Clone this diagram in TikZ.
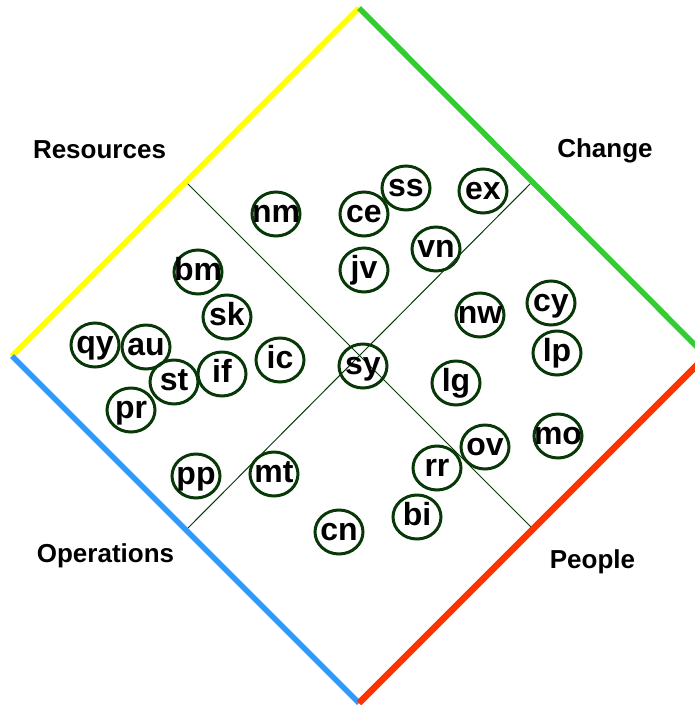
\documentclass[tikz,border=0pt]{standalone}
\usepackage{fontspec}
\setmainfont{Liberation Sans}
\usepackage{xcolor}
\usepackage{tikz}
\usetikzlibrary{shapes}
\definecolor{memgreen}{RGB}{8,56,8}
\definecolor{resyellow}{RGB}{255,255,0}
\definecolor{chgreen}{RGB}{51,204,51}
\definecolor{pplred}{RGB}{255,51,0}
\definecolor{opblue}{RGB}{51,153,255}
\tikzset{memb/.style={ellipse,draw=memgreen,line width=3pt,minimum width=48pt,minimum height=44pt,inner xsep=-8pt,inner ysep=0pt,text height=16.5pt,text depth=0pt,font=\fontsize{32}{32}\selectfont\bfseries}}
\tikzset{quad/.style={anchor=base,font=\fontsize{26}{26}\selectfont\bfseries}}

\begin{document}
\begin{tikzpicture}[x=1pt,y=-1pt]
    \useasboundingbox (0,0) rectangle (695,705);
    \clip (0,0) rectangle (695,705);
    \coordinate (top) at (359,8);
    \coordinate (left) at (12,356);
    \coordinate (bot) at (359,703);
    \coordinate (right) at (706,356);
    \coordinate (ry) at (186,182);
    \coordinate (ch) at (532,182);
    \coordinate (pe) at (533,529);
    \coordinate (op) at (186,530);

    \draw [memgreen,line width=1pt] (ry) -- (pe);
    \draw [memgreen,line width=1pt] (op) -- (ch);
    \draw [resyellow,line width=5.5pt] (left) -- (top);
    \draw [chgreen,line width=5.5pt] (top) -- (right);
    \draw [opblue,line width=5.5pt] (left) -- (bot);
    \draw [pplred,line width=6.5pt] (right) -- (bot);

    \node[quad] (res) at (99.5,158) {Resources};
    \node[quad] (chg) at (605,157) {Change};
    \node[quad] (ops) at (105.5,562) {Operations};
    \node[quad] (ppl) at (592.5,568) {People};

    \node[memb] (nm) at (276,214) {nm};
    \node[memb] (ce) at (364,214) {ce};
    \node[memb] (ss) at (406,188) {ss};
    \node[memb] (ex) at (483,191) {ex};
    \node[memb] (vn) at (436,249) {vn};
    \node[memb] (jv) at (364,270) {jv};
    \node[memb] (bm) at (198,272) {bm};
    \node[memb] (sk) at (227,317) {sk};
    \node[memb] (qy) at (95,345) {qy};
    \node[memb] (au) at (146,347) {au};
    \node[memb] (st) at (174,382) {st};
    \node[memb] (if) at (222,374) {if};
    \node[memb] (ic) at (280,360) {ic};
    \node[memb] (pr) at (131,410) {pr};
    \node[memb] (pp) at (196,476) {pp};
    \node[memb] (mt) at (274,474) {mt};
    \node[memb] (cn) at (339,532) {cn};
    \node[memb] (sy) at (363,366) {sy};
    \node[memb] (nw) at (480,315) {nw};
    \node[memb] (cy) at (551,303) {cy};
    \node[memb] (lp) at (557,353) {lp};
    \node[memb] (lg) at (456,383) {lg};
    \node[memb] (ov) at (485,447) {ov};
    \node[memb] (mo) at (558,436) {mo};
    \node[memb] (rr) at (437,468) {rr};
    \node[memb] (bi) at (417,517) {bi};
\end{tikzpicture}
\end{document}
